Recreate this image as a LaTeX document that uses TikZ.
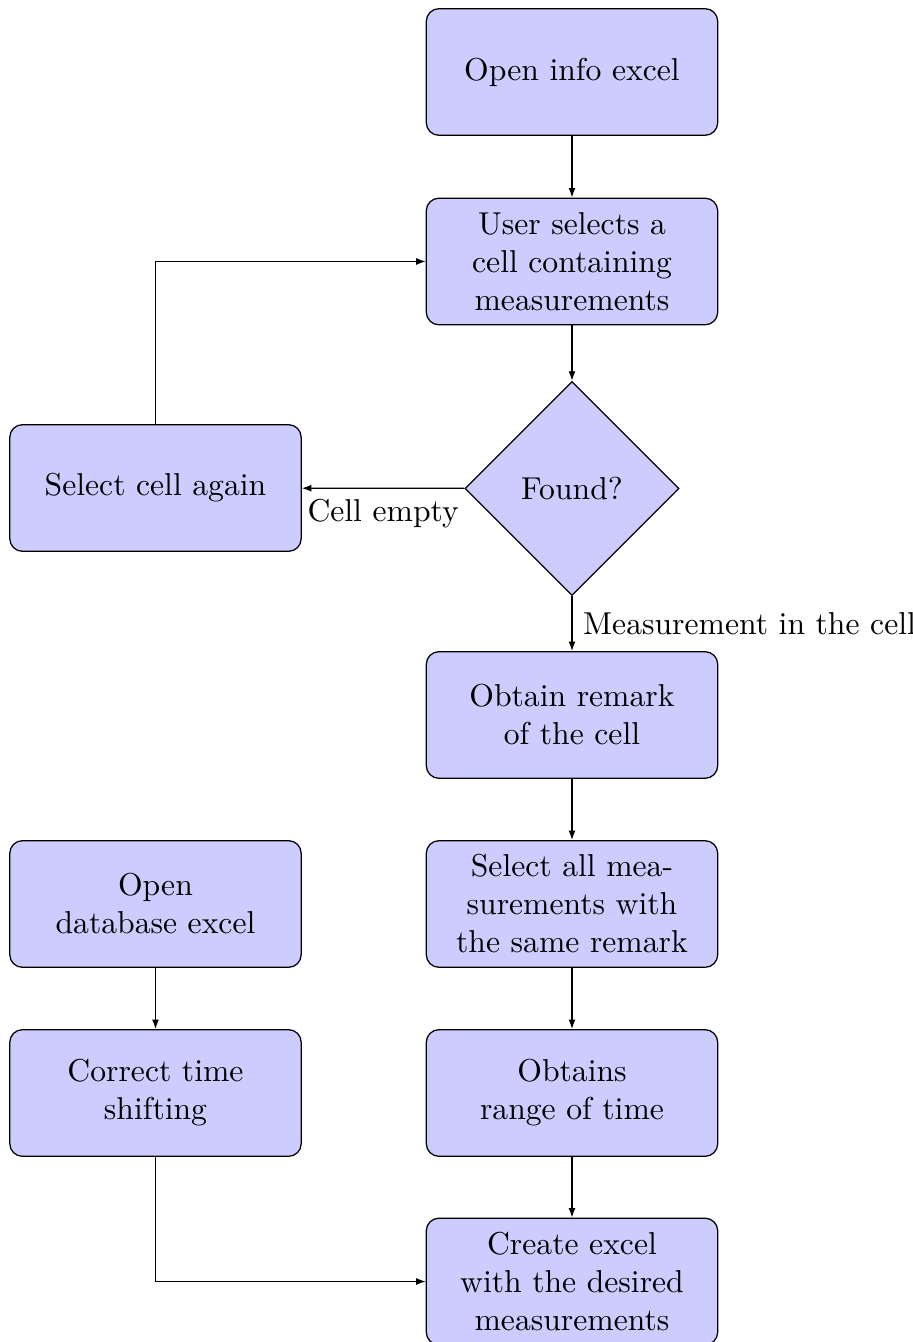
\documentclass[tikz,border=0pt]{standalone}
\usetikzlibrary{shapes.geometric,arrows.meta}
\begin{document}
\begin{tikzpicture}[x=0.3158pt,y=-0.3158pt,
  stepbox/.style={rectangle, draw, fill=blue!20, text width=3cm, align=center,
    rounded corners, minimum height=4em, line width=0.4pt},
  decision/.style={diamond, draw, fill=blue!20, aspect=1, inner sep=0pt,
    minimum width=67.6pt, minimum height=67.6pt, align=center},
  flow/.style={draw, line width=0.4pt, -{Latex[length=3pt,width=2.2pt]}}]
\useasboundingbox (0,0) rectangle (913,1342);
\node[stepbox] (open)    at (572,72)     {Open info excel};
\node[stepbox] (select)  at (572,261.5)  {User selects a\\cell containing\\measurements};
\node[decision] (found)  at (572,488.5)  {Found?};
\node[stepbox] (again)   at (155.5,488)  {Select cell again};
\node[stepbox] (remark)  at (572,715)    {Obtain remark\\of the cell};
\node[stepbox] (selall)  at (572,904)    {Select all mea-\\surements with\\the same remark};
\node[stepbox] (range)   at (572,1093)   {Obtains\\range of time};
\node[stepbox] (create)  at (572,1281.5) {Create excel\\with the desired\\measurements};
\node[stepbox] (db)      at (155.5,904)  {Open\\database excel};
\node[stepbox] (shift)   at (155.5,1093) {Correct time\\shifting};

\path[flow] (open) -- (select);
\path[flow] (select) -- (found);
\path[flow] (found) -- node[below] {Cell empty} (again);
\path[flow] (found) -- node[right] {Measurement in the cell} (remark);
\path[flow] (again) |- (select);
\path[flow] (remark) -- (selall);
\path[flow] (selall) -- (range);
\path[flow] (range) -- (create);
\path[flow] (db) -- (shift);
\path[flow] (shift) |- (create);
\end{tikzpicture}
\end{document}
